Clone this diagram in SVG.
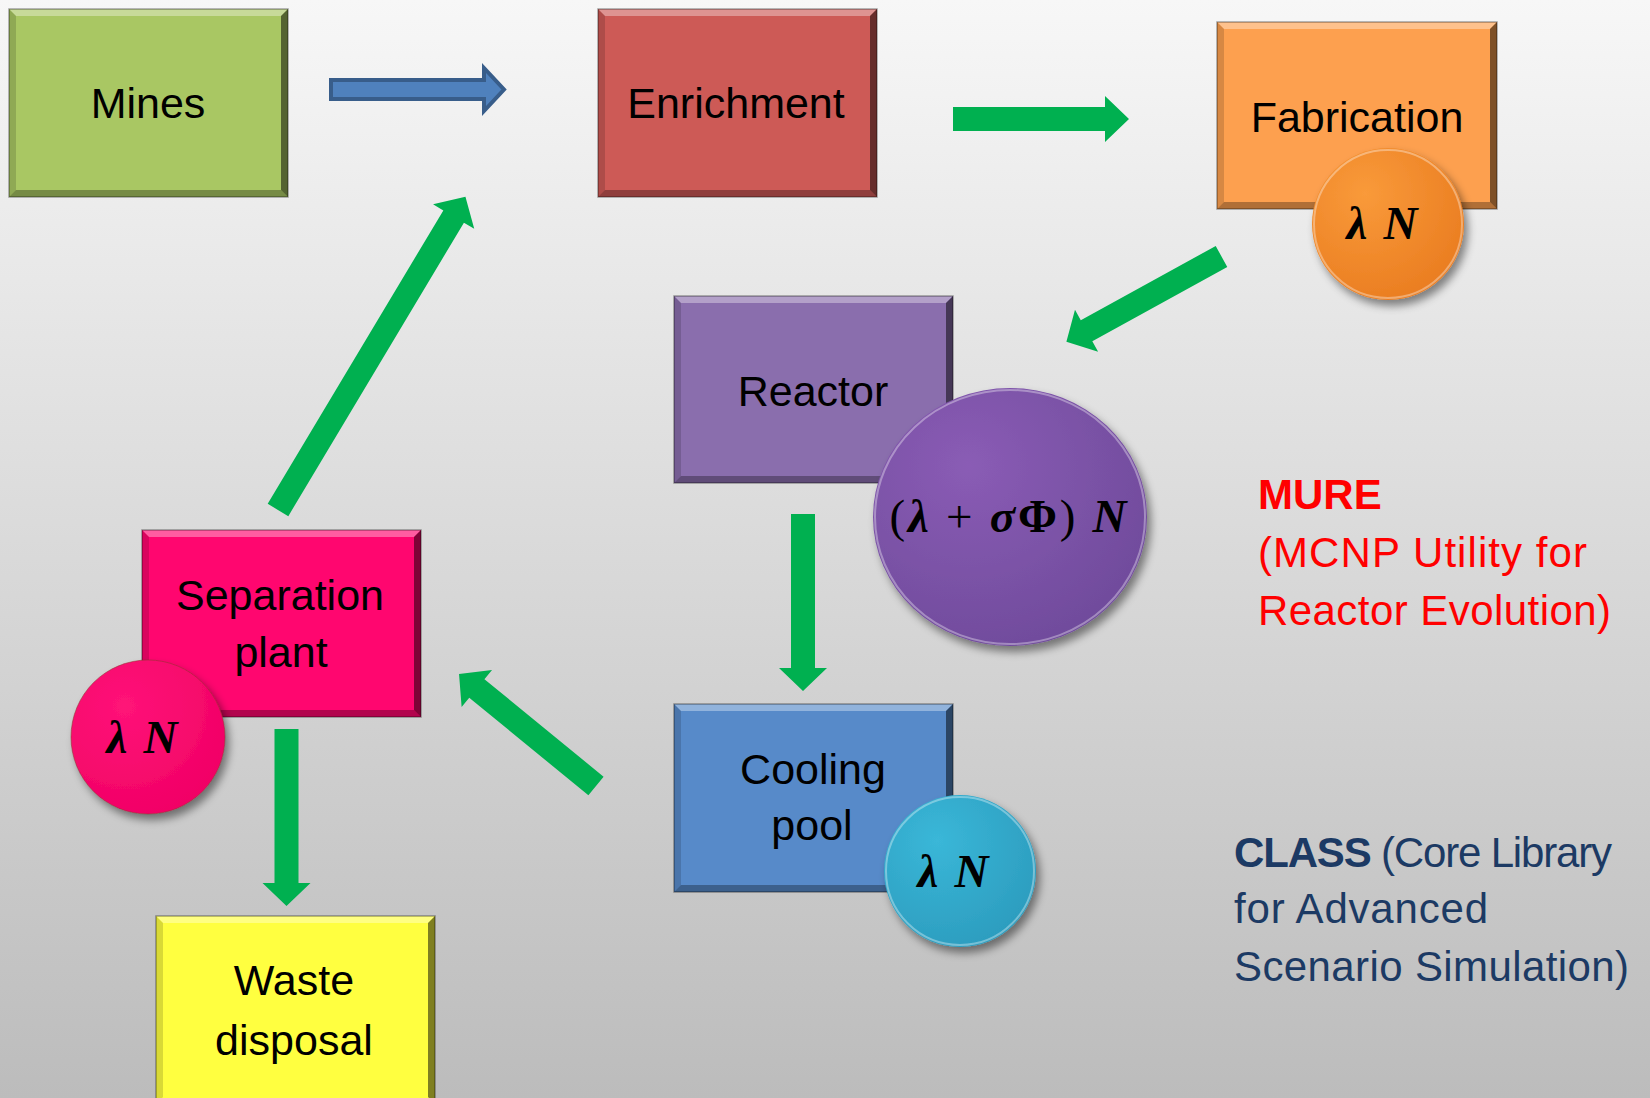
<svg xmlns="http://www.w3.org/2000/svg" width="1650" height="1098" viewBox="0 0 1650 1098">
<defs>
<linearGradient id="bg" x1="0" y1="0" x2="0" y2="1">
<stop offset="0" stop-color="#f7f7f7"/>
<stop offset="1" stop-color="#bcbcbc"/>
</linearGradient>
<radialGradient id="gOr" cx="0.35" cy="0.3" r="0.8"><stop offset="0" stop-color="#f99a3a"/><stop offset="1" stop-color="#e97b1f"/></radialGradient>
<radialGradient id="gPu" cx="0.35" cy="0.3" r="0.8"><stop offset="0" stop-color="#8a5cb5"/><stop offset="1" stop-color="#6e4a9a"/></radialGradient>
<radialGradient id="gPk" cx="0.35" cy="0.3" r="0.8"><stop offset="0" stop-color="#ff1378"/><stop offset="1" stop-color="#f00064"/></radialGradient>
<radialGradient id="gCy" cx="0.35" cy="0.3" r="0.8"><stop offset="0" stop-color="#3ab7d8"/><stop offset="1" stop-color="#2b9bbd"/></radialGradient>
<filter id="sh" x="-20%" y="-20%" width="150%" height="150%">
<feDropShadow dx="4" dy="6" stdDeviation="4" flood-color="#000" flood-opacity="0.45"/>
</filter>
<style>
.lbl{font-family:"Liberation Sans",Arial,sans-serif;font-size:43px;fill:#000;text-anchor:middle}
.math{font-family:"Liberation Serif","Times New Roman",serif;font-size:47px;font-weight:bold;font-style:italic;fill:#000;text-anchor:middle}
.up{font-style:normal;font-weight:normal}
.upb{font-style:normal}
.hi{fill:#fff;fill-opacity:0.35}
.lo{fill:#000;fill-opacity:0.15}
.ri{fill:#000;fill-opacity:0.5}
.bo{fill:#000;fill-opacity:0.3}
.edge{fill:none;stroke:#000;stroke-opacity:0.35;stroke-width:1.5}
.arr{fill:#00b050}
.blue{fill:#4f81bd;stroke:#385d8a;stroke-width:4}
.mure{font-family:"Liberation Sans",Arial,sans-serif;font-size:42px;fill:#ff0000}
.cls{font-family:"Liberation Sans",Arial,sans-serif;font-size:42px;fill:#1c3a64}
.rim{fill:none;stroke:#fff;stroke-opacity:0.35;stroke-width:2}
</style>
</defs>
<rect x="0" y="0" width="1650" height="1098" fill="url(#bg)"/>

<g id="connectors">
<polygon class="blue" points="331,80 484,80 484,68 504,89.5 484,111 484,99 331,99"/>
<polygon class="arr" points="953,107 1105,107 1105,96 1129,119 1105,142 1105,131 953,131"/>
<polygon class="arr" transform="translate(1221.5,256.5) rotate(151.2)" points="0,-12 154,-12 154,-24 177,0 154,24 154,12 0,12"/>
<polygon class="arr" transform="translate(803,514) rotate(90)" points="0,-12 154,-12 154,-24 177,0 154,24 154,12 0,12"/>
<polygon class="arr" transform="translate(596,786) rotate(-140.7)" points="0,-12 154,-12 154,-24 177,0 154,24 154,12 0,12"/>
<polygon class="arr" transform="translate(278,510) rotate(-59.1)" points="0,-12 342,-12 342,-24 365,0 342,24 342,12 0,12"/>
<polygon class="arr" transform="translate(286.5,729) rotate(90)" points="0,-12 154,-12 154,-24 177,0 154,24 154,12 0,12"/>
</g>

<g id="mines">
<rect x="9" y="9" width="279" height="188" fill="#a9c763"/>
<polygon class="hi" points="9,9 288,9 281,16 16,16"/>
<polygon class="lo" points="9,9 16,16 16,190 9,197"/>
<polygon class="ri" points="288,9 288,197 281,190 281,16"/>
<polygon class="bo" points="9,197 288,197 281,190 16,190"/>
<rect class="edge" x="9" y="9" width="279" height="188"/>
<text class="lbl" x="148" y="118">Mines</text>
</g>

<g id="enrichment">
<rect x="598" y="9" width="279" height="188" fill="#cd5a56"/>
<polygon class="hi" points="598,9 877,9 870,16 605,16"/>
<polygon class="lo" points="598,9 605,16 605,190 598,197"/>
<polygon class="ri" points="877,9 877,197 870,190 870,16"/>
<polygon class="bo" points="598,197 877,197 870,190 605,190"/>
<rect class="edge" x="598" y="9" width="279" height="188"/>
<text class="lbl" x="736" y="118">Enrichment</text>
</g>

<g id="fabrication">
<rect x="1217" y="22" width="280" height="187" fill="#fda04f"/>
<polygon class="hi" points="1217,22 1497,22 1490,29 1224,29"/>
<polygon class="lo" points="1217,22 1224,29 1224,202 1217,209"/>
<polygon class="ri" points="1497,22 1497,209 1490,202 1490,29"/>
<polygon class="bo" points="1217,209 1497,209 1490,202 1224,202"/>
<rect class="edge" x="1217" y="22" width="280" height="187"/>
<text class="lbl" x="1357" y="132">Fabrication</text>
<circle cx="1388" cy="224" r="76" fill="url(#gOr)" filter="url(#sh)"/>
<circle class="rim" cx="1388" cy="224" r="74"/>
<text class="math" x="1382" y="239" textLength="71">λ N</text>
</g>

<g id="reactor">
<rect x="674" y="296" width="279" height="187" fill="#8a6ead"/>
<polygon class="hi" points="674,296 953,296 946,303 681,303"/>
<polygon class="lo" points="674,296 681,303 681,476 674,483"/>
<polygon class="ri" points="953,296 953,483 946,476 946,303"/>
<polygon class="bo" points="674,483 953,483 946,476 681,476"/>
<rect class="edge" x="674" y="296" width="279" height="187"/>
<text class="lbl" x="813" y="406">Reactor</text>
<ellipse cx="1010" cy="517" rx="137" ry="129" fill="url(#gPu)" filter="url(#sh)"/>
<ellipse class="rim" cx="1010" cy="517" rx="135" ry="127"/>
<text class="math" x="1008" y="532" textLength="237" lengthAdjust="spacing"><tspan class="up">(</tspan>λ <tspan class="up">+</tspan> σ<tspan class="upb">Φ</tspan><tspan class="up">)</tspan> N</text>
</g>

<g id="separation">
<rect x="142" y="530" width="279" height="187" fill="#ff066f"/>
<polygon class="hi" points="142,530 421,530 414,537 149,537"/>
<polygon class="lo" points="142,530 149,537 149,710 142,717"/>
<polygon class="ri" points="421,530 421,717 414,710 414,537"/>
<polygon class="bo" points="142,717 421,717 414,710 149,710"/>
<rect class="edge" x="142" y="530" width="279" height="187"/>
<text class="lbl" x="280" y="610">Separation</text>
<text class="lbl" x="281" y="667">plant</text>
<circle cx="148" cy="737" r="77" fill="url(#gPk)" filter="url(#sh)"/>
<circle cx="148" cy="737" r="77" fill="none" stroke="#8a3a2a" stroke-opacity="0.5" stroke-width="1"/>
<text class="math" x="142" y="753" textLength="71">λ N</text>
</g>

<g id="cooling">
<rect x="674" y="704" width="279" height="188" fill="#578ac9"/>
<polygon class="hi" points="674,704 953,704 946,711 681,711"/>
<polygon class="lo" points="674,704 681,711 681,885 674,892"/>
<polygon class="ri" points="953,704 953,892 946,885 946,711"/>
<polygon class="bo" points="674,892 953,892 946,885 681,885"/>
<rect class="edge" x="674" y="704" width="279" height="188"/>
<text class="lbl" x="813" y="784">Cooling</text>
<text class="lbl" x="812" y="840">pool</text>
<circle cx="960" cy="871" r="76" fill="url(#gCy)" filter="url(#sh)"/>
<circle class="rim" cx="960" cy="871" r="74"/>
<text class="math" x="953" y="887" textLength="71">λ N</text>
</g>

<g id="waste">
<rect x="156" y="916" width="279" height="188" fill="#ffff40"/>
<polygon class="hi" points="156,916 435,916 428,923 163,923"/>
<polygon class="lo" points="156,916 163,923 163,1097 156,1104"/>
<polygon class="ri" points="435,916 435,1104 428,1097 428,923"/>
<rect class="edge" x="156" y="916" width="279" height="188"/>
<text class="lbl" x="294" y="995">Waste</text>
<text class="lbl" x="294" y="1055">disposal</text>
</g>

<g id="mure-note">
<text class="mure" x="1258" y="509" font-weight="bold">MURE</text>
<text class="mure" x="1258" y="567" textLength="329">(MCNP Utility for</text>
<text class="mure" x="1258" y="625" textLength="353">Reactor Evolution)</text>
</g>

<g id="class-note">
<text class="cls" x="1234" y="867" textLength="378"><tspan font-weight="bold">CLASS</tspan> (Core Library</text>
<text class="cls" x="1234" y="923" textLength="254">for Advanced</text>
<text class="cls" x="1234" y="981" textLength="395">Scenario Simulation)</text>
</g>
</svg>
